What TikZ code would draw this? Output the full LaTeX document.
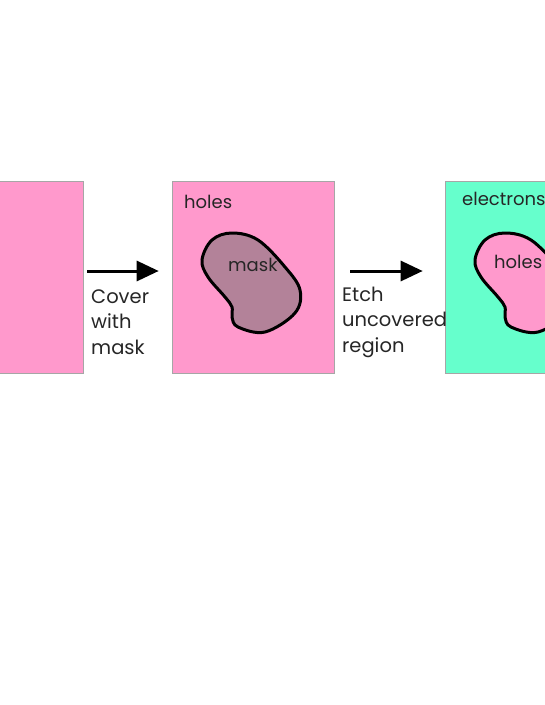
\documentclass[tikz,border=0pt]{standalone}
\usepackage{fontspec}
\setmainfont{Poppins}
\usetikzlibrary{arrows.meta,calc}
\definecolor{pinkc}{HTML}{FF99CC}
\definecolor{maskc}{HTML}{B38299}
\definecolor{greenc}{HTML}{66FFCC}
\tikzset{
  wafer/.style={draw=gray!70, line width=0.6pt, minimum width=162pt, minimum height=192pt, inner sep=0pt},
  stepar/.style={line width=3pt, -{Triangle[length=22pt,width=20pt]}},
  lbl/.style={font=\fontsize{18}{25}\selectfont, text=black!85, inner sep=0pt, anchor=base west},
  arlbl/.style={font=\fontsize{19.5}{25.5}\selectfont, text=black!85, inner sep=0pt, anchor=base west, align=left},
  blobline/.style={line width=3pt, draw=black}
}
\def\blob{plot[smooth cycle, tension=0.6] coordinates {(202,260) (212,240) (232,233) (258,240) (285,267) (300,290) (295,313) (265,332) (238,327) (232,317) (232,307) (225,297) (208,277)}}
\begin{document}
\begin{tikzpicture}[x=1pt,y=-1pt]
\useasboundingbox (0,0) rectangle (545,705);
\begin{scope}
\clip (0,0) rectangle (545,705);
\node[wafer, fill=pinkc] (b1) at (2,277) {};
\node[wafer, fill=pinkc] (b2) at (253,277) {};
\node[wafer, fill=greenc] (b3) at (526,277) {};
\fill[maskc] \blob;
\draw[blobline] \blob;
\begin{scope}[xshift=273pt]
\fill[pinkc] \blob;
\draw[blobline] \blob;
\end{scope}
\coordinate (a1s) at ($(b1.east)+(4,-6)$);
\coordinate (a1e) at ($(b2.west)+(-13,-6)$);
\coordinate (a2s) at ($(b2.east)+(16,-6)$);
\coordinate (a2e) at ($(b3.west)+(-22,-6)$);
\draw[stepar] (a1s) -- (a1e);
\draw[stepar] (a2s) -- (a2e);
\node[lbl] (t1) at (184,208) {holes};
\node[lbl] (t2) at (228,271) {mask};
\node[arlbl] (t3) at (91,354) {Cover\\with\\mask};
\node[arlbl] (t4) at (342,352) {Etch\\uncovered\\region};
\node[lbl] (t5) at (462,205) {electrons};
\node[lbl] (t6) at (494,268) {holes};
\end{scope}
\end{tikzpicture}
\end{document}
